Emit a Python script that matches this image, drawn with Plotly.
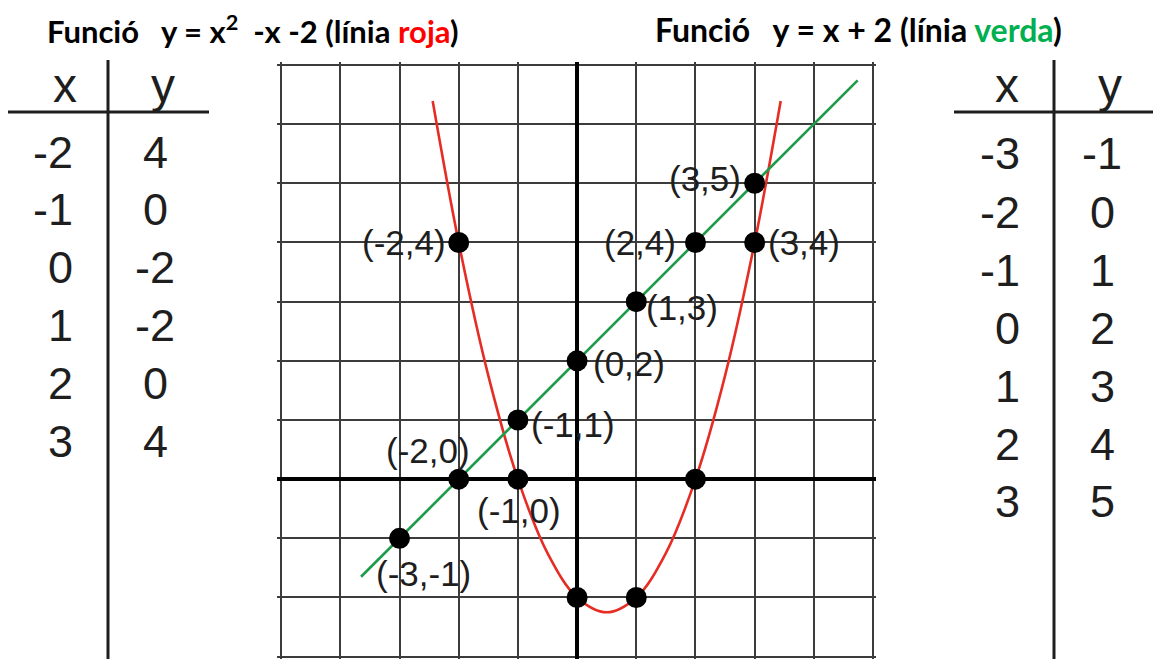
import plotly.graph_objects as go

# punts de la taula (paràbola, línia vermella)
red_x = [-2, -1, 0, 1, 2, 3]
red_y = [4, 0, -2, -2, 0, 4]

# punts de la taula (recta, línia verda)
green_x = [-3, -2, -1, 0, 1, 2, 3]
green_y = [-1, 0, 1, 2, 3, 4, 5]

# traç de la corba llegit del dibuix
curve_x = [-2.44, -2, -1.5, -1, -0.5, 0, 0.5, 1, 1.5, 2, 2.5, 3, 3.44]
curve_y = [6.39, 4, 1.75, 0, -1.25, -2, -2.25, -2, -1.25, 0, 1.75, 4, 6.39]

# extrems de la recta
line_x = [-3.65, 4.74]
line_y = [-1.65, 6.74]

# etiquetes que porten nom al gràfic
label_x = [-2, 3, 2, 3, 1, 0, -1, -2, -1, -3]
label_y = [4, 5, 4, 4, 3, 2, 1, 0, 0, -1]

W, H = 1153, 659
L, R, T, B = 277, 876, 62, 659


def px_x(px):
    return (px - L) / (R - L)


def px_y(py):
    return (B - py) / (B - T)


fig = go.Figure()

fig.add_trace(go.Scatter(
    x=curve_x, y=curve_y, mode="lines", line=dict(color="#e62d25", width=2.6, shape="spline"),
    hoverinfo="skip",
))
fig.add_trace(go.Scatter(
    x=line_x, y=line_y, mode="lines", line=dict(color="#1c9b48", width=2.6),
    hoverinfo="skip",
))
fig.add_trace(go.Scatter(
    x=red_x + green_x, y=red_y + green_y, mode="markers",
    marker=dict(color="black", size=21),
))

# (xanchor, xshift, yshift) per cada etiqueta
placement = [
    ("right", -11, 0),
    ("right", -12, 5),
    ("right", -17, 0),
    ("left", 11, 0),
    ("left", 8, -6),
    ("left", 14, -3),
    ("left", 11, -5),
    ("center", -31, 29),
    ("center", 1, -31),
    ("center", 24, -35),
]
for x, y, (anchor, dx, dy) in zip(label_x, label_y, placement):
    fig.add_annotation(
        x=x, y=y, xref="x", yref="y", text=f"({x},{y})", showarrow=False,
        xanchor=anchor, yanchor="middle", xshift=dx, yshift=dy,
        font=dict(family="Liberation Sans", size=35, color="#1e1e1e"),
    )

# títols
nb = "\u00a0"
fig.add_annotation(
    x=px_x(45), y=px_y(30), xref="paper", yref="paper", showarrow=False,
    xanchor="left", yanchor="middle", font=dict(family="Lato", size=31, color="black"),
    text=f"<b>Funció{nb*3}y = x<sup>2</sup>{nb*2}-x -2 (línia <span style='color:#ff0000'>roja</span>)</b>",
)
fig.add_annotation(
    x=px_x(653), y=px_y(30), xref="paper", yref="paper", showarrow=False,
    xanchor="left", yanchor="middle", font=dict(family="Lato", size=32, color="black"),
    text=f"<b>Funció{nb*3}y = x + 2 (línia <span style='color:#00b050'>verda</span>)</b>",
)

# taules de valors
table_font = dict(family="Liberation Sans", size=45, color="#1e1e1e")
head_font = dict(family="Liberation Sans", size=48, color="#1e1e1e")


def add_table(xs, ys, vline, hline, x_right, y_center, hx, hy, row0, step):
    fig.add_shape(type="line", xref="paper", yref="paper",
                  x0=px_x(vline), x1=px_x(vline), y0=px_y(60), y1=px_y(659),
                  line=dict(color="#1e1e1e", width=3))
    fig.add_shape(type="line", xref="paper", yref="paper",
                  x0=px_x(hline[0]), x1=px_x(hline[1]), y0=px_y(112), y1=px_y(112),
                  line=dict(color="#1e1e1e", width=3))
    fig.add_annotation(x=px_x(hx), y=px_y(85), xref="paper", yref="paper", text="x",
                       showarrow=False, xanchor="center", yanchor="middle", font=head_font)
    fig.add_annotation(x=px_x(hy), y=px_y(85), xref="paper", yref="paper", text="y",
                       showarrow=False, xanchor="center", yanchor="middle", font=head_font)
    for i, (a, b) in enumerate(zip(xs, ys)):
        yc = px_y(row0 + step * i)
        fig.add_annotation(x=px_x(x_right), y=yc, xref="paper", yref="paper", text=str(a),
                           showarrow=False, xanchor="right", yanchor="middle", font=table_font)
        fig.add_annotation(x=px_x(y_center), y=yc, xref="paper", yref="paper", text=str(b),
                           showarrow=False, xanchor="center", yanchor="middle", font=table_font)


add_table(red_x, red_y, 108, (8, 209), 75, 155, 65, 163, 152, 57.8)
add_table(green_x, green_y, 1054, (954, 1153), 1022, 1102, 1007, 1110, 154, 58)

axis = dict(
    showticklabels=False, ticks="", showline=False, dtick=1, tick0=0,
    showgrid=True, gridcolor="#3c3c3c", gridwidth=1.6,
    zeroline=True, zerolinecolor="black", zerolinewidth=3.5, fixedrange=True,
)
fig.update_xaxes(range=[-5.07, 5.05], **axis)
fig.update_yaxes(range=[-3.04, 7.05], **axis)

fig.update_layout(
    width=W, height=H, showlegend=False,
    margin=dict(l=L, r=W - R, t=T, b=H - B),
    paper_bgcolor="white", plot_bgcolor="white",
)

# la pàgina té marge per defecte; el traiem perquè la figura comenci a (0,0)
fig.write_html(
    "out.html",
    config={"displayModeBar": False},
    post_script="document.body.style.margin='0';",
)
